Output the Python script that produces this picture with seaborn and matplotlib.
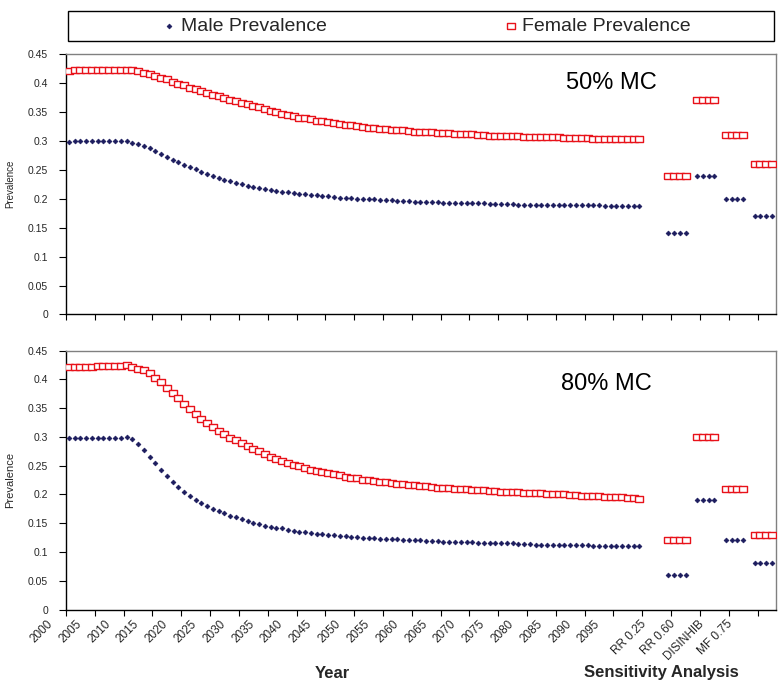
import matplotlib
matplotlib.use("Agg")
import matplotlib.pyplot as plt
import matplotlib.ticker as mticker
import matplotlib.transforms as mtransforms
from matplotlib.patches import Rectangle
import numpy as np
import pandas as pd
import seaborn as sns

# ---------------- data ----------------
years = list(range(2000, 2100))

male_50 = [0.298, 0.299, 0.299, 0.299, 0.299, 0.299, 0.299, 0.299, 0.300, 0.299, 0.299,
           0.297, 0.294, 0.291, 0.287, 0.282, 0.277, 0.272, 0.267, 0.263,
           0.259, 0.255, 0.251, 0.247, 0.243, 0.240, 0.236, 0.233, 0.230, 0.227,
           0.225, 0.222, 0.220, 0.219, 0.217, 0.215, 0.214, 0.212, 0.211, 0.210,
           0.209, 0.208, 0.207, 0.206, 0.205, 0.204, 0.203, 0.202, 0.201, 0.201,
           0.200, 0.200, 0.199, 0.199, 0.198, 0.197, 0.197, 0.196, 0.196, 0.196,
           0.195, 0.195, 0.194, 0.194, 0.194, 0.193, 0.193, 0.193, 0.193, 0.192,
           0.192, 0.192, 0.192, 0.191, 0.191, 0.191, 0.191, 0.191, 0.190, 0.190,
           0.190, 0.190, 0.190, 0.190, 0.189, 0.189, 0.189, 0.189, 0.189, 0.189,
           0.189, 0.189, 0.189, 0.188, 0.188, 0.188, 0.188, 0.188, 0.188, 0.188]

female_50 = [0.421, 0.422, 0.422, 0.423, 0.423, 0.423, 0.423, 0.423, 0.423, 0.423, 0.423,
             0.422, 0.420, 0.418, 0.415, 0.412, 0.409, 0.406, 0.402, 0.399,
             0.396, 0.392, 0.389, 0.386, 0.383, 0.380, 0.377, 0.374, 0.371, 0.368,
             0.366, 0.363, 0.360, 0.358, 0.355, 0.352, 0.350, 0.347, 0.345, 0.343,
             0.340, 0.339, 0.337, 0.335, 0.334, 0.332, 0.331, 0.329, 0.328, 0.327,
             0.325, 0.324, 0.323, 0.322, 0.321, 0.320, 0.319, 0.318, 0.318, 0.317,
             0.316, 0.316, 0.315, 0.315, 0.314, 0.313, 0.313, 0.312, 0.312, 0.311,
             0.311, 0.310, 0.310, 0.309, 0.309, 0.309, 0.308, 0.308, 0.308, 0.307,
             0.307, 0.307, 0.306, 0.306, 0.306, 0.306, 0.305, 0.305, 0.305, 0.305,
             0.305, 0.304, 0.304, 0.304, 0.304, 0.304, 0.303, 0.303, 0.303, 0.303]

male_80 = [0.299, 0.299, 0.299, 0.299, 0.299, 0.299, 0.299, 0.299, 0.299, 0.299, 0.300,
           0.296, 0.288, 0.277, 0.266, 0.254, 0.243, 0.232, 0.222, 0.213,
           0.205, 0.198, 0.191, 0.185, 0.180, 0.175, 0.171, 0.167, 0.163, 0.160,
           0.157, 0.154, 0.151, 0.149, 0.146, 0.144, 0.142, 0.141, 0.139, 0.137,
           0.135, 0.134, 0.133, 0.132, 0.131, 0.130, 0.129, 0.128, 0.127, 0.126,
           0.126, 0.125, 0.124, 0.124, 0.123, 0.123, 0.122, 0.122, 0.121, 0.121,
           0.120, 0.120, 0.119, 0.119, 0.119, 0.118, 0.118, 0.118, 0.117, 0.117,
           0.117, 0.116, 0.116, 0.116, 0.115, 0.115, 0.115, 0.115, 0.114, 0.114,
           0.114, 0.113, 0.113, 0.113, 0.113, 0.113, 0.112, 0.112, 0.112, 0.112,
           0.112, 0.111, 0.111, 0.111, 0.111, 0.111, 0.110, 0.110, 0.110, 0.110]

female_80 = [0.421, 0.422, 0.422, 0.422, 0.422, 0.423, 0.423, 0.423, 0.423, 0.423, 0.425,
             0.422, 0.419, 0.416, 0.411, 0.403, 0.395, 0.385, 0.376, 0.367,
             0.358, 0.349, 0.340, 0.332, 0.325, 0.318, 0.311, 0.305, 0.299, 0.294,
             0.289, 0.284, 0.279, 0.275, 0.270, 0.266, 0.262, 0.259, 0.255, 0.252,
             0.249, 0.246, 0.243, 0.241, 0.239, 0.237, 0.235, 0.233, 0.231, 0.229,
             0.228, 0.226, 0.225, 0.223, 0.222, 0.221, 0.220, 0.219, 0.218, 0.217,
             0.216, 0.215, 0.214, 0.213, 0.212, 0.211, 0.211, 0.210, 0.209, 0.209,
             0.208, 0.207, 0.207, 0.206, 0.206, 0.205, 0.205, 0.204, 0.204, 0.203,
             0.203, 0.202, 0.202, 0.201, 0.201, 0.200, 0.200, 0.199, 0.199, 0.198,
             0.198, 0.197, 0.197, 0.196, 0.196, 0.195, 0.195, 0.194, 0.194, 0.193]

sens_labels = ["RR 0.25", "RR 0.60", "DISINHIB", "MF 0.75"]
sens_male_50 = [0.14, 0.24, 0.20, 0.17]
sens_female_50 = [0.24, 0.37, 0.31, 0.26]
sens_male_80 = [0.06, 0.19, 0.12, 0.08]
sens_female_80 = [0.12, 0.30, 0.21, 0.13]

panel_titles = ["50% MC", "80% MC"]
series_names = ["Male Prevalence", "Female Prevalence"]

# ---------------- layout constants ----------------
N_YEARS = len(years)
GAP = 4          # empty categories after the years
GROUP_LEN = 4    # points per sensitivity scenario
GROUP_STEP = 5   # categories per scenario incl. one empty
N_CAT = N_YEARS + GAP + GROUP_STEP * len(sens_labels) - 1

NAVY = "#1c1c5e"
RED = "#e8121a"


def build_frame(male, female, s_male, s_female):
    rows = []
    for i, (m, f) in enumerate(zip(male, female)):
        rows.append((i, m, series_names[0]))
        rows.append((i, f, series_names[1]))
    for g in range(len(sens_labels)):
        start = N_YEARS + GAP + g * GROUP_STEP
        for j in range(GROUP_LEN):
            rows.append((start + j, s_male[g], series_names[0]))
            rows.append((start + j, s_female[g], series_names[1]))
    return pd.DataFrame(rows, columns=["x", "Prevalence", "Series"])


frames = [build_frame(male_50, female_50, sens_male_50, sens_female_50),
          build_frame(male_80, female_80, sens_male_80, sens_female_80)]

# ---------------- plotting ----------------
sns.set_theme(style="white")
plt.rcParams["font.family"] = ["Liberation Sans", "DejaVu Sans"]

W, H = 784, 686
fig = plt.figure(figsize=(W / 100, H / 100), dpi=100)

ax_left, ax_right = 66, 776
panels_px = [(54, 314.5), (350.7, 609.5)]
axes = []
for top, bot in panels_px:
    ax = fig.add_axes([ax_left / W, 1 - bot / H, (ax_right - ax_left) / W, (bot - top) / H])
    axes.append(ax)

rect_marker = [(-1.25, -1), (1.25, -1), (1.25, 1), (-1.25, 1), (-1.25, -1)]

for k, (ax, df) in enumerate(zip(axes, frames)):
    dm = df[df["Series"] == series_names[0]]
    dff = df[df["Series"] == series_names[1]]
    sns.scatterplot(data=dff, x="x", y="Prevalence", ax=ax, marker=rect_marker,
                    s=26, facecolor="white", edgecolor=RED, linewidth=1.0,
                    legend=False, zorder=3)
    sns.scatterplot(data=dm, x="x", y="Prevalence", ax=ax, marker="D",
                    s=6, color=NAVY, edgecolor=NAVY, linewidth=0.5,
                    legend=False, zorder=4)

    ax.set_yticks(np.arange(0, 0.451, 0.05))
    ax.yaxis.set_major_formatter(mticker.FuncFormatter(lambda v, p: f"{v:g}"))
    ax.tick_params(axis="y", which="major", direction="out", length=5, width=0.8,
                   color="black", labelsize=7.5, pad=8, left=True)

    # boundary tick marks every 5 categories
    ax.set_xticks(np.arange(-0.5, N_CAT - 1, 5))
    ax.set_xticklabels([])
    ax.tick_params(axis="x", which="major", direction="out", length=4, width=0.8,
                   color="black", bottom=True)

    for side in ["left", "bottom"]:
        ax.spines[side].set_color("black")
        ax.spines[side].set_linewidth(1.0)
    for side in ["top", "right"]:
        ax.spines[side].set_color("#808080")
        ax.spines[side].set_linewidth(1.0)

    ax.set_xlabel("")
    ax.set_ylabel("Prevalence", fontsize=8 if k == 1 else 7)
    ax.yaxis.set_label_coords((15 - ax_left) / (ax_right - ax_left), 0.5)

    ax.text(0.768 if k == 0 else 0.761, 0.89 if k == 0 else 0.871, panel_titles[k],
            transform=ax.transAxes, fontsize=17, ha="center", va="center", color="black")

# category labels on bottom panel (at category centres, shifted left like the original)
ax = axes[1]
lab_pos = [i for i in range(0, N_YEARS, 5)]
lab_txt = [str(years[i]) for i in range(0, N_YEARS, 5)]
for g, lab in enumerate(sens_labels):
    lab_pos.append(N_YEARS + GAP + g * GROUP_STEP - 1)
    lab_txt.append(lab)
ax.set_xticks(lab_pos, minor=True)
ax.set_xticklabels(lab_txt, minor=True, rotation=45, ha="right",
                   rotation_mode="anchor", fontsize=8.5)
ax.tick_params(axis="x", which="minor", length=0, pad=9, bottom=True)
shift = mtransforms.ScaledTranslation(-18 / 100, 0, fig.dpi_scale_trans)
for t in ax.xaxis.get_minorticklabels():
    t.set_va("center")
    t.set_transform(t.get_transform() + shift)

for ax in axes:
    ax.set_xlim(-0.5, N_CAT - 0.3)
    ax.set_ylim(0, 0.45)

# axis titles
fig.text(332 / W, 1 - 673 / H, "Year", fontsize=12, fontweight="bold", ha="center", va="center")
fig.text(661 / W, 1 - 673 / H, "Sensitivity Analysis", fontsize=12, fontweight="bold",
         ha="center", va="center")

# legend box
fig.patches.append(Rectangle((68 / W, 1 - 41 / H), (774 - 68) / W, 30 / H,
                             transform=fig.transFigure, fill=False,
                             edgecolor="black", linewidth=1.0))
h_male = axes[0].collections[1]
h_fem = axes[0].collections[0]
for h, name, cx in [(h_male, series_names[0], 245), (h_fem, series_names[1], 598)]:
    fig.legend([h], [name], loc="center", bbox_to_anchor=(cx / W, 1 - 26 / H),
               frameon=False, fontsize=14, handlelength=0.6, handletextpad=0.3,
               borderpad=0.0, scatterpoints=1)

fig.savefig("out.png", dpi=100)
